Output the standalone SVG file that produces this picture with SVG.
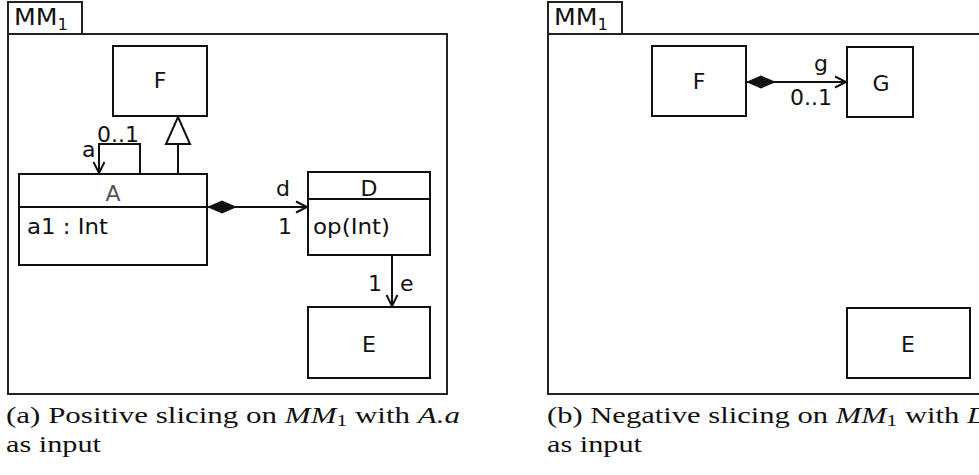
<svg xmlns="http://www.w3.org/2000/svg" width="979" height="475" viewBox="0 0 979 475">
<style>
.frame{fill:none;stroke:#222;stroke-width:2}
.box{fill:#fff;stroke:#111;stroke-width:2}
.ln{fill:none;stroke:#111;stroke-width:2}
.t{font-family:"DejaVu Sans",sans-serif;font-size:22px;fill:#111}
.m{text-anchor:middle}
.cap{font-family:"Liberation Serif","DejaVu Serif",serif;font-size:23px;fill:#111}
</style>
<defs>
<marker id="open" markerUnits="userSpaceOnUse" markerWidth="14" markerHeight="14" viewBox="0 0 14 14" refX="12" refY="7" orient="auto" overflow="visible">
<path d="M1,1.5 L12,7 L1,12.5" fill="none" stroke="#111" stroke-width="2"/>
</marker>
<marker id="diamond" markerUnits="userSpaceOnUse" markerWidth="32" markerHeight="14" viewBox="0 0 32 14" refX="1" refY="7" orient="auto" overflow="visible">
<path d="M1,7 L16,0.5 L31,7 L16,13.5 Z" fill="#111"/>
</marker>
</defs>

<!-- Panel (a) -->
<g id="frameA">
<rect class="frame" x="8" y="2" width="74" height="32"/>
<rect class="frame" x="8" y="34" width="439" height="360"/>
<text class="t" x="14" y="25" style="font-size:23px" textLength="54" lengthAdjust="spacingAndGlyphs">MM<tspan font-size="15" dy="5">1</tspan></text>
</g>
<g id="nodeF_a">
<rect class="box" x="113" y="46" width="94" height="70"/>
<text class="t m" x="160" y="88">F</text>
</g>
<g id="nodeA">
<rect class="box" x="19" y="174" width="188" height="91"/>
<line class="ln" x1="19" y1="207" x2="207" y2="207"/>
<text class="t m" x="113" y="201" style="fill:#555">A</text>
<text class="t" x="27" y="234" textLength="81" lengthAdjust="spacingAndGlyphs">a1 : Int</text>
</g>
<g id="nodeD">
<rect class="box" x="308" y="172" width="122" height="83"/>
<line class="ln" x1="308" y1="199" x2="430" y2="199"/>
<text class="t m" x="369" y="196">D</text>
<text class="t" x="313" y="234" textLength="77" lengthAdjust="spacingAndGlyphs">op(Int)</text>
</g>
<g id="nodeE_a">
<rect class="box" x="308" y="307" width="122" height="71"/>
<text class="t m" x="369" y="352">E</text>
</g>

<!-- Panel (b) -->
<g id="frameB">
<rect class="frame" x="548" y="2" width="74" height="32"/>
<rect class="frame" x="548" y="34" width="460" height="360"/>
<text class="t" x="554" y="25" style="font-size:23px" textLength="54" lengthAdjust="spacingAndGlyphs">MM<tspan font-size="15" dy="5">1</tspan></text>
</g>
<g id="nodeF_b">
<rect class="box" x="652" y="46" width="94" height="70"/>
<text class="t m" x="699" y="89">F</text>
</g>
<g id="nodeG">
<rect class="box" x="847" y="47" width="66" height="70"/>
<text class="t m" x="881" y="91">G</text>
</g>
<g id="nodeE_b">
<rect class="box" x="847" y="308" width="123" height="70"/>
<text class="t m" x="908" y="352">E</text>
</g>

<g id="connectors">
<!-- self loop a -->
<path class="ln" d="M140,174 V144 H99 V173" marker-end="url(#open)"/>
<text class="t" x="97" y="142" textLength="42" lengthAdjust="spacingAndGlyphs">0..1</text>
<text class="t" x="82" y="157">a</text>
<!-- generalization A -> F -->
<line class="ln" x1="178" y1="174" x2="178" y2="144"/>
<path d="M178,117 L190,144 L166,144 Z" fill="#fff" stroke="#111" stroke-width="2"/>
<!-- composition A -> D -->
<path class="ln" d="M207,207 H307" marker-start="url(#diamond)" marker-end="url(#open)"/>
<text class="t" x="276" y="196">d</text>
<text class="t" x="278" y="234">1</text>
<!-- D -> E -->
<path class="ln" d="M392,255 V306" marker-end="url(#open)"/>
<text class="t" x="368" y="291">1</text>
<text class="t" x="400" y="291">e</text>
<!-- composition F -> G -->
<path class="ln" d="M746,82 H846" marker-start="url(#diamond)" marker-end="url(#open)"/>
<text class="t" x="814" y="71">g</text>
<text class="t" x="790" y="105" textLength="42" lengthAdjust="spacingAndGlyphs">0..1</text>
</g>

<!-- captions -->
<g id="captions">
<text class="cap" x="6" y="423" textLength="454" lengthAdjust="spacingAndGlyphs">(a) Positive slicing on <tspan font-style="italic">MM</tspan><tspan font-size="16" dy="3">1</tspan><tspan dy="-3"> with </tspan><tspan font-style="italic">A.a</tspan></text>
<text class="cap" x="6" y="452" textLength="95" lengthAdjust="spacingAndGlyphs">as input</text>
<text class="cap" x="547" y="423" textLength="442" lengthAdjust="spacingAndGlyphs">(b) Negative slicing on <tspan font-style="italic">MM</tspan><tspan font-size="16" dy="3">1</tspan><tspan dy="-3"> with </tspan><tspan font-style="italic">D</tspan></text>
<text class="cap" x="547" y="452" textLength="95" lengthAdjust="spacingAndGlyphs">as input</text>
</g>
</svg>
